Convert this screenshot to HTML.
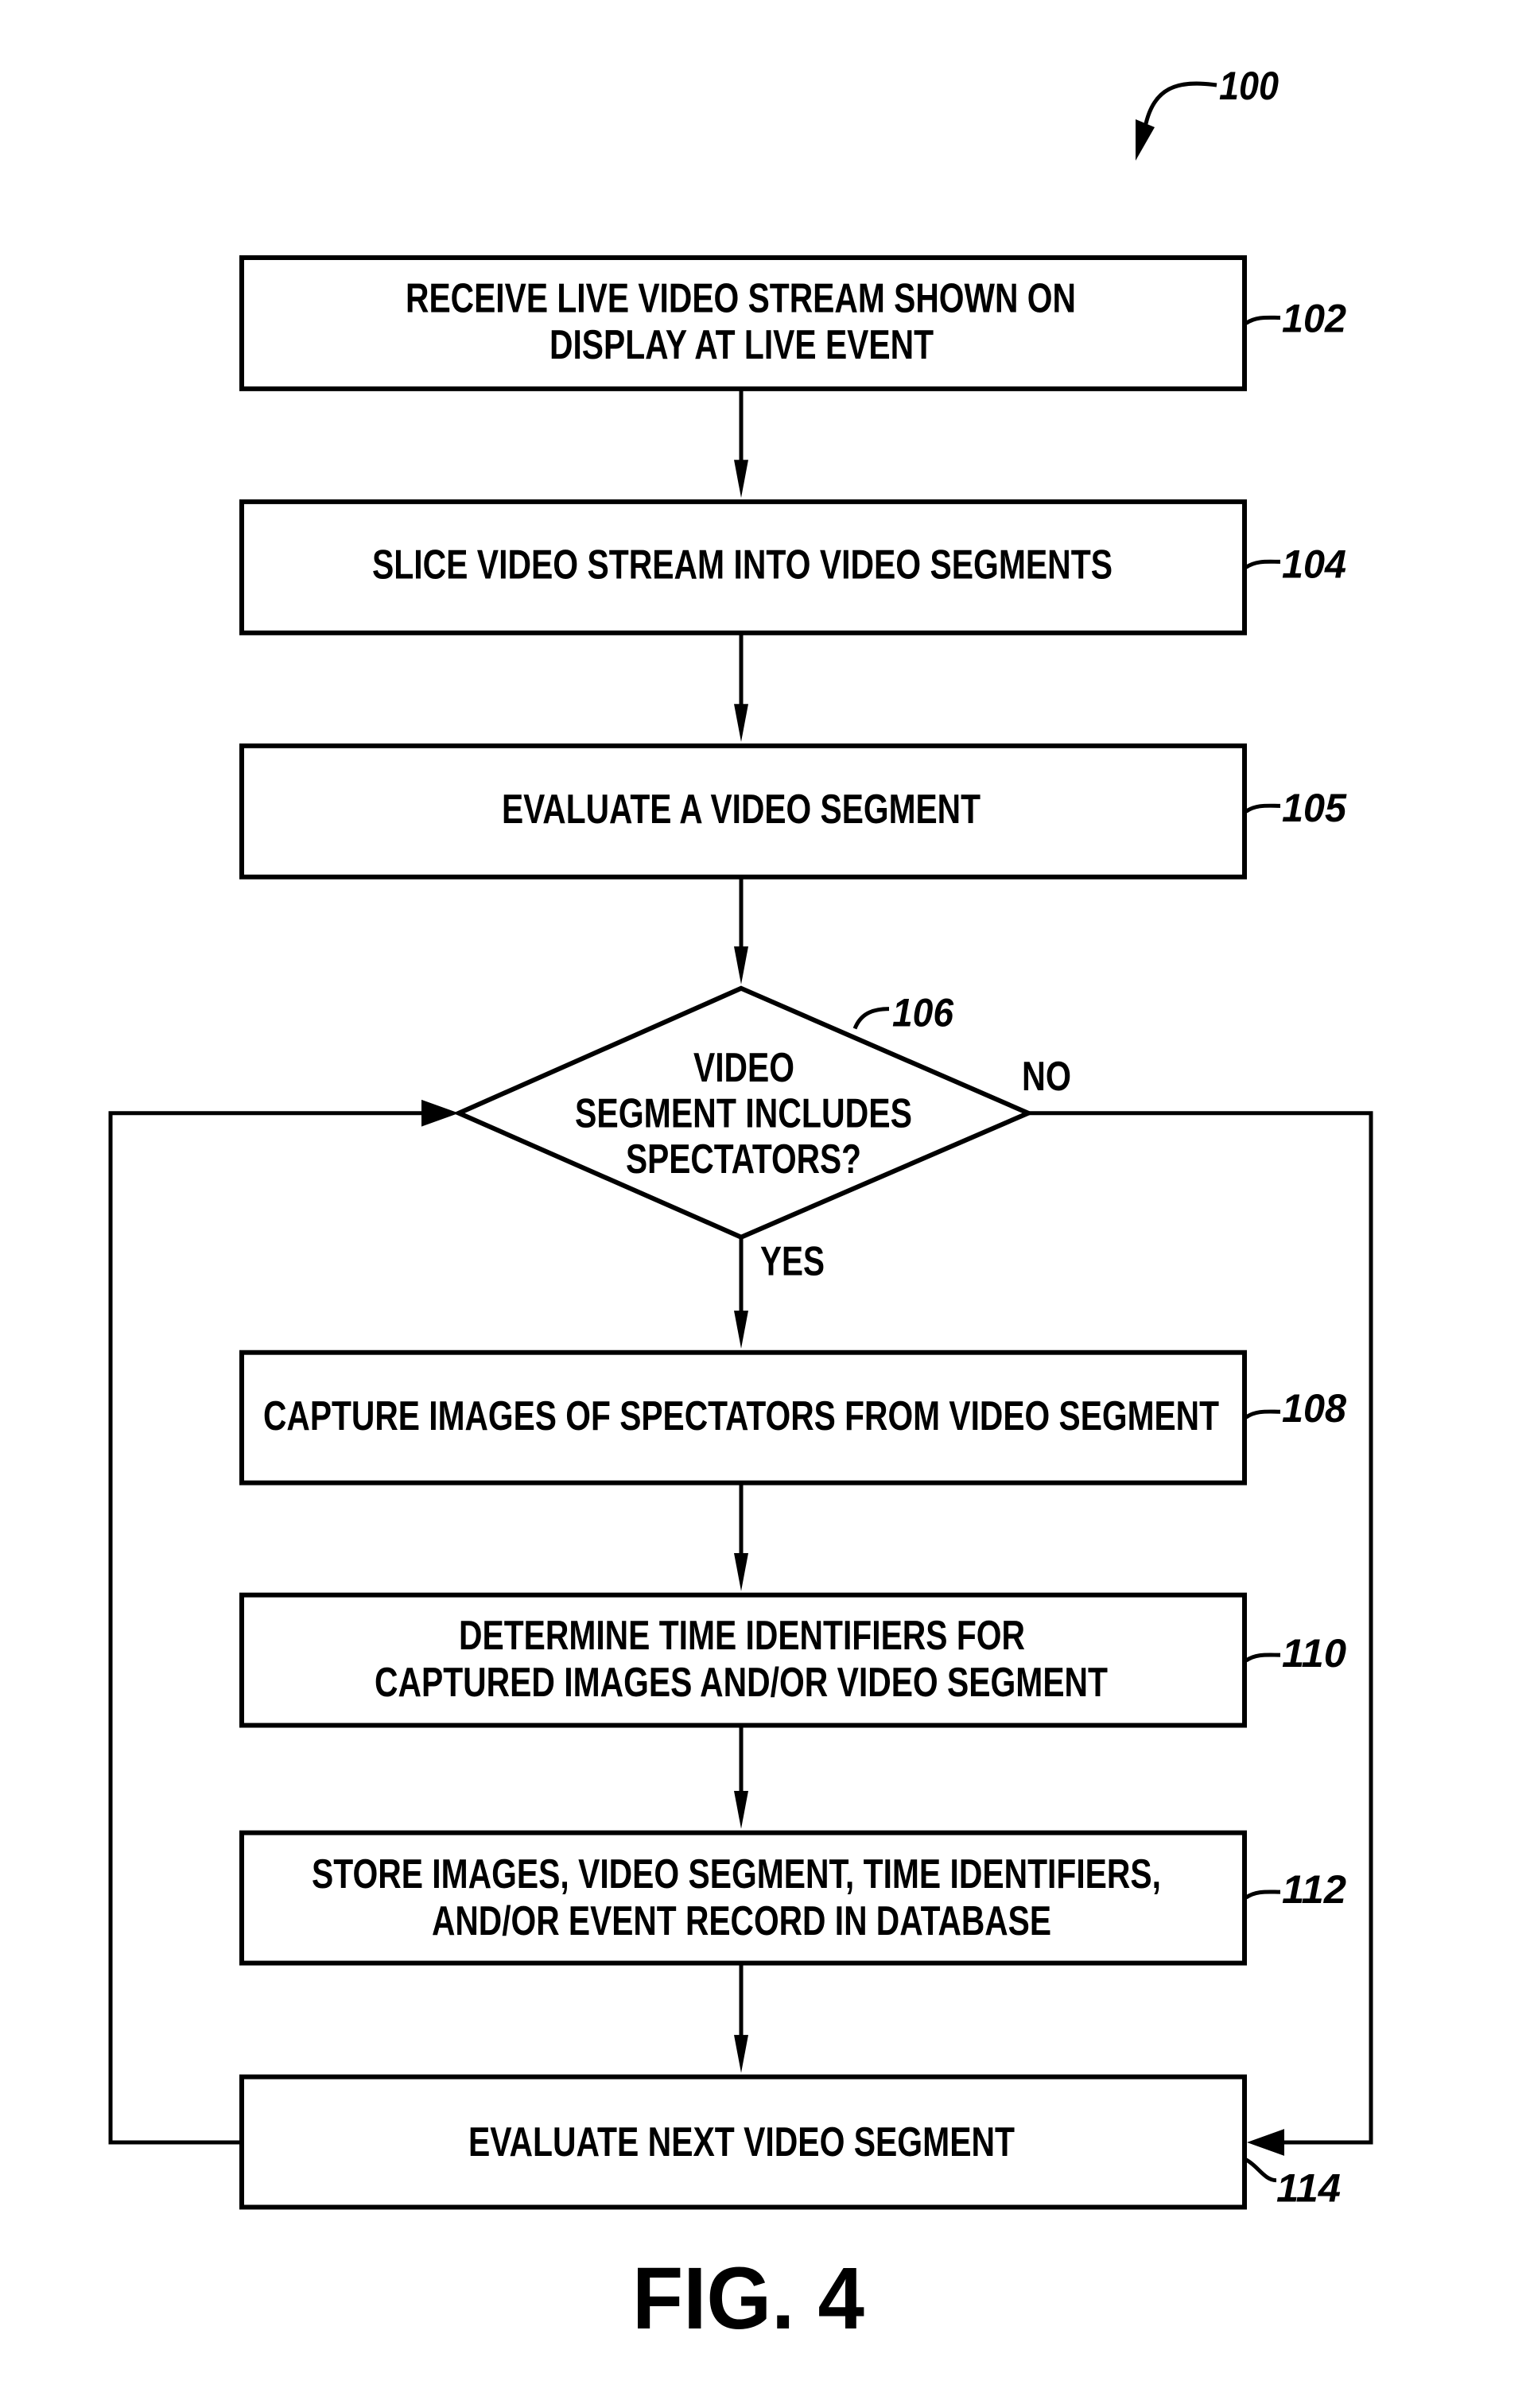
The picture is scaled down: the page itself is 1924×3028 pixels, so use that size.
<!DOCTYPE html>
<html><head><style>html,body{margin:0;padding:0;background:#fff}svg{display:block}
text{font-family:"Liberation Sans Narrow","Liberation Sans",sans-serif;font-weight:bold;fill:#000}
.t{font-size:52px}.r{font-size:50px;font-style:italic}</style></head><body>
<svg width="1924" height="3028" viewBox="0 0 1924 3028" xmlns="http://www.w3.org/2000/svg">
<g transform="translate(0,2.17) scale(1,0.9933)">
<g fill="none" stroke="#000" stroke-width="6">
<rect x="304" y="324" width="1261" height="166"/>
<rect x="304" y="633" width="1261" height="166"/>
<rect x="304" y="942" width="1261" height="166"/>
<polygon points="932,1249 1293,1407 932,1564 577,1407"/>
<rect x="304" y="1710" width="1261" height="165"/>
<rect x="304" y="2017" width="1261" height="165"/>
<rect x="304" y="2318" width="1261" height="165"/>
<rect x="304" y="2627" width="1261" height="165"/>
</g>
<g stroke="#000" stroke-width="5" fill="none">
<line x1="932" y1="490" x2="932" y2="590"/>
<line x1="932" y1="799" x2="932" y2="899"/>
<line x1="932" y1="1108" x2="932" y2="1206"/>
<line x1="932" y1="1564" x2="932" y2="1667"/>
<line x1="932" y1="1875" x2="932" y2="1974"/>
<line x1="932" y1="2182" x2="932" y2="2275"/>
<line x1="932" y1="2483" x2="932" y2="2584"/>
<polyline points="304,2710 139,2710 139,1407 540,1407"/>
<polyline points="1293,1407 1724,1407 1724,2710 1605,2710"/>
<path d="M1567,407 C1580,398 1595,400 1610,400"/>
<path d="M1567,716 C1580,707 1595,709 1610,709"/>
<path d="M1567,1025 C1580,1016 1595,1018 1610,1018"/>
<path d="M1567,1792 C1580,1783 1595,1785 1610,1785"/>
<path d="M1567,2100 C1580,2091 1595,2093 1610,2093"/>
<path d="M1567,2400 C1580,2391 1595,2393 1610,2393"/>
<path d="M1567,2732 C1582,2740 1590,2758 1605,2758"/>
<path d="M1075,1300 C1082,1282 1096,1275 1118,1275"/>
</g>
<g fill="#000">
<polygon points="923,580 941,580 932,628"/>
<polygon points="923,889 941,889 932,937"/>
<polygon points="923,1196 941,1196 932,1244"/>
<polygon points="923,1657 941,1657 932,1705"/>
<polygon points="923,1964 941,1964 932,2012"/>
<polygon points="923,2265 941,2265 932,2313"/>
<polygon points="923,2574 941,2574 932,2622"/>
<polygon points="530,1390 530,1424 577,1407"/>
<polygon points="1615,2693 1615,2727 1568,2710"/>
</g>
<text class="t" x="510" y="393" textLength="843" lengthAdjust="spacingAndGlyphs">RECEIVE LIVE VIDEO STREAM SHOWN ON</text>
<text class="t" x="691" y="452" textLength="483" lengthAdjust="spacingAndGlyphs">DISPLAY AT LIVE EVENT</text>
<text class="t" x="468" y="730" textLength="931" lengthAdjust="spacingAndGlyphs">SLICE VIDEO STREAM INTO VIDEO SEGMENTS</text>
<text class="t" x="631" y="1040" textLength="602" lengthAdjust="spacingAndGlyphs">EVALUATE A VIDEO SEGMENT</text>
<text class="t" x="872" y="1367" textLength="127" lengthAdjust="spacingAndGlyphs">VIDEO</text>
<text class="t" x="723" y="1425" textLength="424" lengthAdjust="spacingAndGlyphs">SEGMENT INCLUDES</text>
<text class="t" x="787" y="1483" textLength="296" lengthAdjust="spacingAndGlyphs">SPECTATORS?</text>
<text class="t" x="1285" y="1378" textLength="62" lengthAdjust="spacingAndGlyphs">NO</text>
<text class="t" x="956" y="1612" textLength="81" lengthAdjust="spacingAndGlyphs">YES</text>
<text class="t" x="331" y="1808" textLength="1202" lengthAdjust="spacingAndGlyphs">CAPTURE IMAGES OF SPECTATORS FROM VIDEO SEGMENT</text>
<text class="t" x="577" y="2086" textLength="712" lengthAdjust="spacingAndGlyphs">DETERMINE TIME IDENTIFIERS FOR</text>
<text class="t" x="471" y="2145" textLength="922" lengthAdjust="spacingAndGlyphs">CAPTURED IMAGES AND/OR VIDEO SEGMENT</text>
<text class="t" x="392" y="2388" textLength="1068" lengthAdjust="spacingAndGlyphs">STORE IMAGES, VIDEO SEGMENT, TIME IDENTIFIERS,</text>
<text class="t" x="543" y="2447" textLength="779" lengthAdjust="spacingAndGlyphs">AND/OR EVENT RECORD IN DATABASE</text>
<text class="t" x="589" y="2727" textLength="687" lengthAdjust="spacingAndGlyphs">EVALUATE NEXT VIDEO SEGMENT</text>
<text class="r" x="1612" y="418" textLength="81" lengthAdjust="spacingAndGlyphs">102</text>
<text class="r" x="1612" y="729" textLength="81" lengthAdjust="spacingAndGlyphs">104</text>
<text class="r" x="1612" y="1038" textLength="81" lengthAdjust="spacingAndGlyphs">105</text>
<text class="r" x="1612" y="1798" textLength="81" lengthAdjust="spacingAndGlyphs">108</text>
<text class="r" x="1612" y="2108" textLength="81" lengthAdjust="spacingAndGlyphs">110</text>
<text class="r" x="1612" y="2407" textLength="81" lengthAdjust="spacingAndGlyphs">112</text>
<text class="r" x="1605" y="2785" textLength="81" lengthAdjust="spacingAndGlyphs">114</text>
<text class="r" x="1122" y="1297" textLength="77" lengthAdjust="spacingAndGlyphs">106</text>
</g>
<path d="M1530,107 C1480,100 1450,110 1440,160" stroke="#000" stroke-width="5" fill="none"/>
<polygon points="1428,150 1452,160 1428,202" fill="#000"/>
<text class="r" x="1533" y="125" textLength="75" lengthAdjust="spacingAndGlyphs">100</text>
<text x="795" y="2928" font-size="110" textLength="292" lengthAdjust="spacingAndGlyphs">FIG. 4</text>
</svg></body></html>
